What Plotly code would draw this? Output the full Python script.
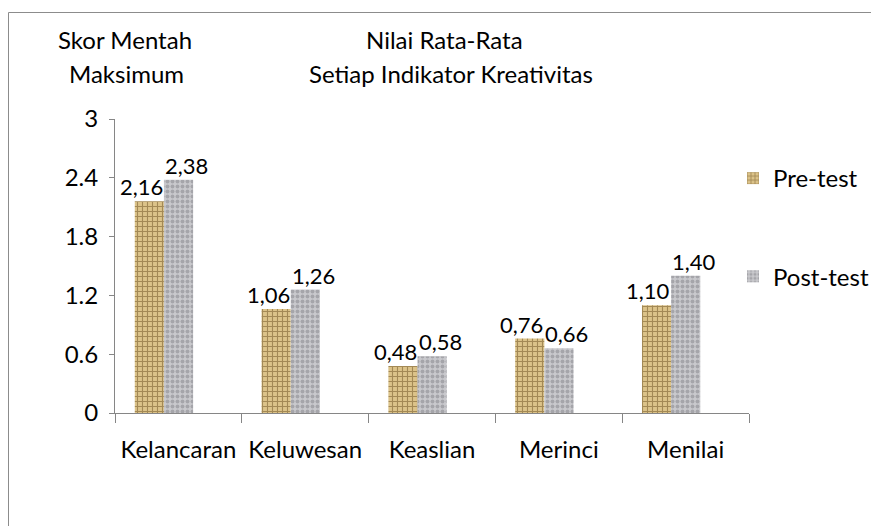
import plotly.graph_objects as go

# Mean score for each creativity indicator
categories = ["Kelancaran", "Keluwesan", "Keaslian", "Merinci", "Menilai"]
pre_test = [2.16, 1.06, 0.48, 0.76, 1.10]
post_test = [2.38, 1.26, 0.58, 0.66, 1.40]
series_names = ["Pre-test", "Post-test"]
y_ticks = [0, 0.6, 1.2, 1.8, 2.4, 3]
y_tick_labels = ["0", "0.6", "1.2", "1.8", "2.4", "3"]

W, H = 871, 526
FONT = "Lato, 'Open Sans', sans-serif"
FS = 24
LABEL_FS = 22

# Plot-area geometry (pixels) and bar placement inside each category slot
PLOT_L, PLOT_R, PLOT_T, PLOT_B = 115, 749, 119, 413
BAR_W = 0.23
PRE_OFF, POST_OFF = -0.344, -0.114
slot_px = (PLOT_R - PLOT_L) / len(categories)
seam_shift = (PRE_OFF + BAR_W) * slot_px  # boundary between the two bars


def comma(v):
    return f"{v:.2f}".replace(".", ",")


fig = go.Figure()

# Burlap-like texture for pre-test, granite-like for post-test
fig.add_trace(go.Bar(
    x=categories, y=pre_test, name=series_names[0], legendgroup="a",
    width=BAR_W, offset=PRE_OFF,
    marker=dict(color="#d2b577", line=dict(width=0),
                pattern=dict(shape="+", fgcolor="#6a4f22", bgcolor="#dcc389",
                             size=5, solidity=0.4)),
))
fig.add_trace(go.Bar(
    x=categories, y=post_test, name=series_names[1], legendgroup="b",
    width=BAR_W, offset=POST_OFF,
    marker=dict(color="#c4c4c8", line=dict(width=0),
                pattern=dict(shape=".", fgcolor="#818188", bgcolor="#c9c9cd",
                             size=5, solidity=0.5)),
))

# Value labels: pre-test labels end at the bar seam, post-test labels start there
for cat, v in zip(categories, pre_test):
    fig.add_annotation(x=cat, y=v, xref="x", yref="y", text=comma(v),
                       showarrow=False, xanchor="right", yanchor="bottom",
                       xshift=seam_shift, yshift=0, borderpad=0,
                       font=dict(family=FONT, size=LABEL_FS, color="#000000"))
for cat, v in zip(categories, post_test):
    fig.add_annotation(x=cat, y=v, xref="x", yref="y", text=comma(v),
                       showarrow=False, xanchor="left", yanchor="bottom",
                       xshift=seam_shift, yshift=0, borderpad=0,
                       font=dict(family=FONT, size=LABEL_FS, color="#000000"))

# Outer frame
fig.add_shape(type="rect", xref="paper", yref="paper",
              x0=8.5 / W, x1=1.1, y0=-0.1, y1=1 - 12.5 / H,
              line=dict(color="#8c8c8c", width=1), fillcolor="rgba(0,0,0,0)",
              layer="below")

# Headings, one annotation per line
headings = [
    ("Skor Mentah", 125, 40),
    ("Maksimum", 126, 73),
    ("Nilai Rata-Rata", 444, 40),
    ("Setiap Indikator Kreativitas", 451, 73),
]
for txt, px, py in headings:
    fig.add_annotation(text=txt, xref="paper", yref="paper",
                       x=px / W, y=1 - py / H, xanchor="center", yanchor="middle",
                       showarrow=False,
                       font=dict(family=FONT, size=FS, color="#000000"))

fig.update_layout(
    width=W, height=H,
    margin=dict(l=0, r=0, t=0, b=0, pad=0, autoexpand=False),
    paper_bgcolor="#ffffff", plot_bgcolor="#ffffff",
    barmode="overlay",
    font=dict(family=FONT, size=FS, color="#000000"),
    showlegend=True,
    legend=dict(x=733 / W, y=1 - 156 / H, xanchor="left", yanchor="top",
                tracegroupgap=64, font=dict(family=FONT, size=FS),
                bgcolor="rgba(0,0,0,0)"),
    xaxis=dict(domain=[PLOT_L / W, PLOT_R / W], type="category", automargin=False,
               showline=True, linecolor="#868686", linewidth=1,
               ticks="outside", ticklen=9, tickcolor="#868686",
               tickson="boundaries", showgrid=False, zeroline=False,
               ticklabelstandoff=15,
               tickfont=dict(family=FONT, size=FS, color="#000000")),
    yaxis=dict(domain=[1 - PLOT_B / H, 1 - PLOT_T / H], range=[0, 3], automargin=False,
               tickvals=y_ticks, ticktext=y_tick_labels,
               showline=True, linecolor="#868686", linewidth=1,
               ticks="outside", ticklen=5, tickcolor="#868686",
               showgrid=False, zeroline=False, ticklabelstandoff=6,
               tickfont=dict(family=FONT, size=FS, color="#000000")),
)

fig.write_html("out.html")
